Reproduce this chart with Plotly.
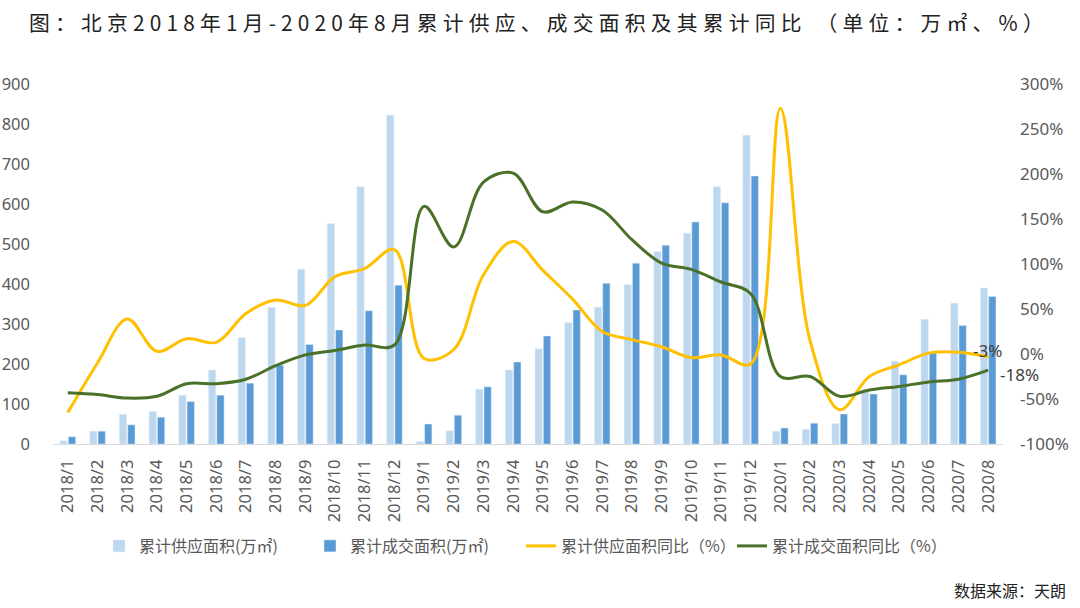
import plotly.graph_objects as go

months = ["2018/1","2018/2","2018/3","2018/4","2018/5","2018/6","2018/7","2018/8","2018/9","2018/10","2018/11","2018/12",
          "2019/1","2019/2","2019/3","2019/4","2019/5","2019/6","2019/7","2019/8","2019/9","2019/10","2019/11","2019/12",
          "2020/1","2020/2","2020/3","2020/4","2020/5","2020/6","2020/7","2020/8"]
supply_area = [8, 32, 74, 81, 122, 185, 266, 342, 437, 551, 643, 822,
               6, 33, 137, 185, 238, 304, 342, 398, 481, 527, 643, 772,
               32, 37, 51, 135, 207, 312, 352, 390]
deal_area = [18, 32, 48, 67, 106, 122, 152, 197, 249, 285, 333, 397,
             50, 72, 143, 205, 270, 335, 402, 452, 497, 555, 603, 670,
             40, 52, 75, 125, 173, 228, 296, 369]
supply_yoy = [-65, -10, 39, 3, 17, 13, 45, 60, 54, 86, 95, 116,
              -5, 5, 88, 125, 93, 61, 25, 16, 8, -4, -1, -11,
              273, 15, -62, -25, -12, 1, 2, -3]
deal_yoy = [-43, -45, -49, -47, -33, -33, -28, -13, -1, 4, 10, 10,
            164, 119, 191, 201, 158, 169, 160, 127, 101, 94, 80, 67,
            -25, -25, -47, -40, -36, -31, -28, -18]
left_ticks = [0, 100, 200, 300, 400, 500, 600, 700, 800, 900]
right_ticks = [-100, -50, 0, 50, 100, 150, 200, 250, 300]
right_tick_labels = [f"{v}%" for v in right_ticks]

title_text = "图：北京2018年1月-2020年8月累计供应、成交面积及其累计同比 （单位：万㎡、%）"
spaced_title = "\u2005".join(list(title_text))

FONT = "Noto Sans, Noto Sans CJK SC, sans-serif"
GRAY = "#595959"

fig = go.Figure()
fig.add_trace(go.Bar(x=months, y=supply_area, name="累计供应面积(万㎡)",
                     marker_color="#BDD7EE", yaxis="y"))
fig.add_trace(go.Bar(x=months, y=deal_area, name="累计成交面积(万㎡)",
                     marker_color="#5B9BD5", yaxis="y"))
fig.add_trace(go.Scatter(x=months, y=supply_yoy, name="累计供应面积同比（%）", mode="lines",
                         line=dict(color="#FFC000", width=3, shape="spline", smoothing=1.0),
                         yaxis="y2"))
fig.add_trace(go.Scatter(x=months, y=deal_yoy, name="累计成交面积同比（%）", mode="lines",
                         line=dict(color="#4A7128", width=3, shape="spline", smoothing=1.0),
                         yaxis="y2"))

fig.add_annotation(x=months[-1], y=supply_yoy[-1], xref="x", yref="y2",
                   text=f"{supply_yoy[-1]}%", showarrow=False, xanchor="right",
                   yanchor="middle", xshift=16, yshift=6,
                   font=dict(family=FONT, size=17, color="#404040"))
fig.add_annotation(x=months[-1], y=deal_yoy[-1], xref="x", yref="y2",
                   text=f"{deal_yoy[-1]}%", showarrow=False, xanchor="left",
                   yanchor="middle", xshift=10, yshift=-4,
                   font=dict(family=FONT, size=17, color="#404040"))
fig.add_annotation(x=1.0685, y=-0.405, xref="paper", yref="paper",
                   text="数据来源：天朗", showarrow=False, xanchor="right", yanchor="middle",
                   font=dict(family="Noto Sans CJK SC", size=16, color="#222222"))
# chart title as a free annotation (left-aligned at the top of the figure)
fig.add_annotation(x=(27 - 53) / 950, y=(444 - 22) / 360, xref="paper", yref="paper",
                   text=spaced_title, showarrow=False, xanchor="left", yanchor="middle",
                   font=dict(family="Noto Sans CJK SC", size=20.8, color="#222222"))

fig.update_layout(
    width=1080, height=608,
    paper_bgcolor="white", plot_bgcolor="white",
    margin=dict(l=53, r=77, t=84, b=164, autoexpand=False),
    barmode="group", bargap=0.44, bargroupgap=0.12,
    font=dict(family=FONT, color=GRAY),
    xaxis=dict(type="category", range=[-0.5, len(months) - 0.5], tickangle=-90,
               showgrid=False, showline=True,
               linecolor="#D9D9D9", linewidth=1, ticks="", automargin=False,
               tickfont=dict(family=FONT, size=16.5, color=GRAY), ticklabelstandoff=8),
    yaxis=dict(range=[0, 900], tickvals=left_ticks, showgrid=False, zeroline=False,
               showline=False, automargin=False,
               tickfont=dict(family=FONT, size=16.5, color=GRAY), ticklabelstandoff=22),
    yaxis2=dict(range=[-100, 300], tickvals=right_ticks, ticktext=right_tick_labels,
                overlaying="y", side="right", automargin=False,
                showgrid=False, zeroline=False, showline=False,
                tickfont=dict(family=FONT, size=17, color=GRAY), ticklabelstandoff=16),
    legend=dict(orientation="h", x=99/1080, xanchor="left", y=1-546/608, yanchor="middle",
                yref="container", xref="container",
                entrywidth=166, entrywidthmode="pixels",
                font=dict(family="Noto Sans CJK SC", size=16, color=GRAY),
                itemwidth=30, traceorder="normal"),
    showlegend=True,
)

fig.write_html("out.html", post_script="document.body.style.margin='0px';",
               config={"displayModeBar": False})
